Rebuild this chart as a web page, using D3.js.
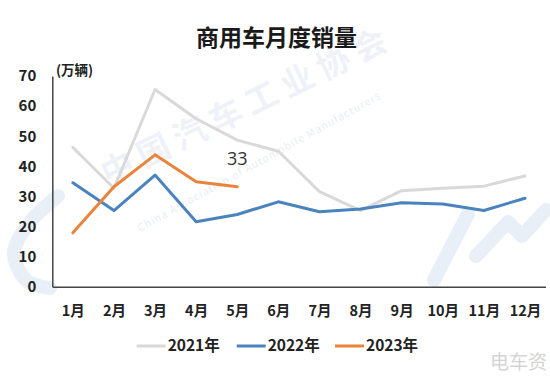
<!DOCTYPE html>
<html>
<head>
<meta charset="utf-8">
<script src="https://cdn.jsdelivr.net/npm/d3@7"></script>
<style>
  html, body { margin: 0; padding: 0; background: #fff; }
  svg { display: block; }
</style>
</head>
<body>
<svg id="chart" width="550" height="378"></svg>
<script>
// ---- data ----
const months = ["1月","2月","3月","4月","5月","6月","7月","8月","9月","10月","11月","12月"];
const sales2021 = [46.3, 32.7, 65.5, 55.8, 48.7, 45.0, 31.6, 25.3, 31.9, 32.7, 33.4, 36.8];
const sales2022 = [34.5, 25.3, 37.1, 21.6, 24.0, 28.2, 24.9, 25.8, 27.9, 27.5, 25.3, 29.4];
const sales2023 = [17.9, 33.2, 43.8, 34.9, 33.2];
const yTicks = [0, 10, 20, 30, 40, 50, 60, 70];
const seriesNames = ["2021年", "2022年", "2023年"];
const seriesColors = ["#d9d9d9", "#4a83bd", "#ea833b"];
const lastLabel = "33";

const svg = d3.select("#chart");
const font = "'Noto Sans CJK SC', 'Noto Sans', sans-serif";

// ---- watermark ----
const wm = svg.append("g").attr("class", "watermark");
wm.append("text")
  .attr("transform", "translate(108,186) rotate(-26)")
  .attr("font-family", font).attr("font-size", 33).attr("font-weight", 700)
  .attr("letter-spacing", 7)
  .attr("fill", "rgba(195,212,232,0.28)")
  .text("中国汽车工业协会");
wm.append("text")
  .attr("transform", "translate(140,232) rotate(-29)")
  .attr("font-family", font).attr("font-size", 10.5)
  .attr("letter-spacing", 1)
  .attr("fill", "rgba(190,205,225,0.38)")
  .text("China Association of Automobile Manufacturers");
// faint logo strokes
const logoLine = d3.line().curve(d3.curveCardinal);
wm.append("path")
  .attr("d", logoLine([[58,196],[30,222],[14,252],[26,280],[50,288]]))
  .attr("fill", "none").attr("stroke", "rgba(200,215,235,0.4)")
  .attr("stroke-width", 14).attr("stroke-linecap", "round");
wm.append("path")
  .attr("d", d3.line()([[434,280],[468,214]]))
  .attr("fill", "none").attr("stroke", "rgba(200,215,235,0.4)")
  .attr("stroke-width", 14).attr("stroke-linecap", "round");
wm.append("path")
  .attr("d", d3.line()([[476,256],[508,222],[522,236],[546,210]]))
  .attr("fill", "none").attr("stroke", "rgba(200,215,235,0.4)")
  .attr("stroke-width", 14).attr("stroke-linecap", "round").attr("stroke-linejoin", "round");

// ---- scales ----
const x = d3.scalePoint().domain(months).range([52.3, 545.5]).padding(0.5);
const y = d3.scaleLinear().domain([0, 70]).range([286.7, 76]);

// ---- title ----
svg.append("text")
  .attr("x", 276.5).attr("y", 46)
  .attr("text-anchor", "middle")
  .attr("font-family", font).attr("font-size", 23).attr("font-weight", 700)
  .attr("fill", "#1a1a1a")
  .text("商用车月度销量");

// unit label
svg.append("text")
  .attr("x", 56).attr("y", 75)
  .attr("font-family", font).attr("font-size", 13.5).attr("font-weight", 700)
  .attr("fill", "#222")
  .text("(万辆)");

// ---- axes ----
const yAxis = svg.append("g")
  .attr("transform", `translate(${x.range()[0]},0)`)
  .call(d3.axisLeft(y).tickValues(yTicks).tickSize(0).tickPadding(16).tickSizeOuter(0));
yAxis.select(".domain").attr("stroke", "#444").attr("stroke-width", 1.5);
yAxis.selectAll("text")
  .attr("font-family", font).attr("font-size", 15).attr("font-weight", 700)
  .attr("fill", "#222");

const xAxis = svg.append("g")
  .attr("transform", `translate(0,${y(0)})`)
  .call(d3.axisBottom(x).tickSize(0).tickPadding(19).tickSizeOuter(0));
xAxis.select(".domain").attr("stroke", "#444").attr("stroke-width", 1.5);
xAxis.selectAll("text")
  .attr("font-family", font).attr("font-size", 14.5).attr("font-weight", 700)
  .attr("fill", "#222");

// ---- lines ----
const line = d3.line().x((d, i) => x(months[i])).y(d => y(d));
[sales2021, sales2022, sales2023].forEach((s, k) => {
  svg.append("path")
    .datum(s)
    .attr("d", line)
    .attr("fill", "none")
    .attr("stroke", seriesColors[k])
    .attr("stroke-width", 3)
    .attr("stroke-linejoin", "round")
    .attr("stroke-linecap", "round");
});

// data label
const li = sales2023.length - 1;
svg.append("text")
  .attr("x", x(months[li])).attr("y", y(sales2023[li]) - 22)
  .attr("text-anchor", "middle")
  .attr("font-family", "'Open Sans', sans-serif").attr("font-size", 18)
  .attr("fill", "#333")
  .text(lastLabel);

// ---- legend ----
const legendX = [136.7, 236.7, 335];
const legendY = 346;
const lg = svg.append("g");
seriesNames.forEach((n, k) => {
  lg.append("line")
    .attr("x1", legendX[k]).attr("x2", legendX[k] + 29)
    .attr("y1", legendY).attr("y2", legendY)
    .attr("stroke", seriesColors[k]).attr("stroke-width", 3);
  lg.append("text")
    .attr("x", legendX[k] + 31).attr("y", legendY)
    .attr("dy", "0.35em")
    .attr("font-family", font).attr("font-size", 15.5).attr("font-weight", 700)
    .attr("fill", "#222")
    .text(n);
});

// source mark
svg.append("text")
  .attr("x", 547).attr("y", 369)
  .attr("text-anchor", "end")
  .attr("font-family", font).attr("font-size", 19)
  .attr("fill", "#d4d4d4")
  .text("电车资");
</script>
</body>
</html>
